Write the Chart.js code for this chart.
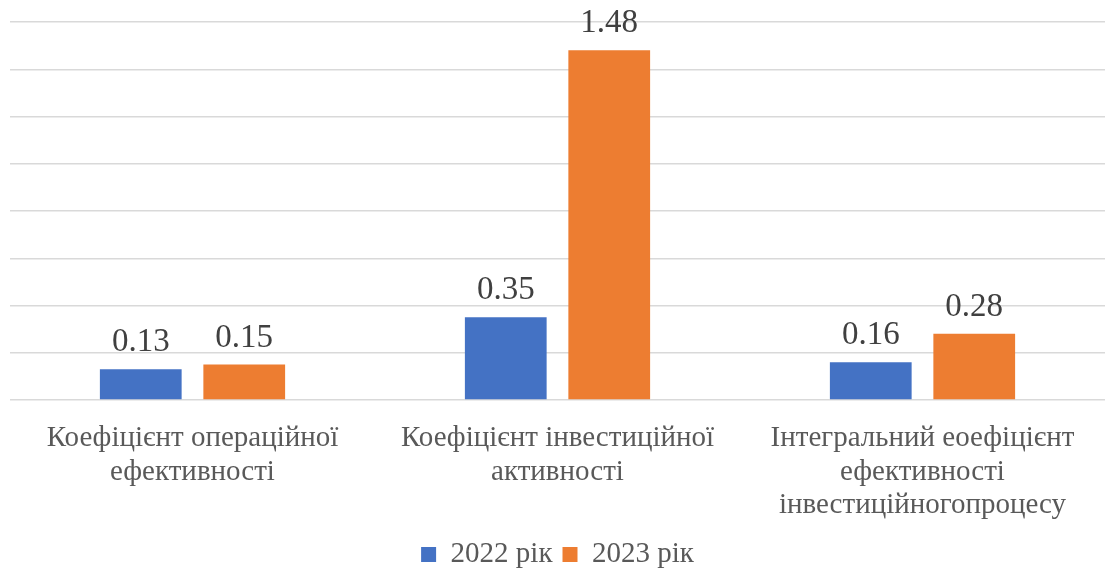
<!DOCTYPE html>
<html>
<head>
<meta charset="utf-8">
<script src="https://cdn.jsdelivr.net/npm/chart.js@4/dist/chart.umd.min.js"></script>
<style>
  html, body { margin: 0; padding: 0; background: #fff; }
  #wrap { width: 1105px; height: 579px; position: relative; }
</style>
</head>
<body>
<div id="wrap"><canvas id="chart"></canvas></div>
<script>
const categories = [
    ['Коефіцієнт операційної', 'ефективності'],
    ['Коефіцієнт інвестиційної', 'активності'],
    ['Інтегральний еоефіцієнт', 'ефективності', 'інвестиційногопроцесу']
];
const seriesNames = ['2022 рік', '2023 рік'];
const values2022 = [0.13, 0.35, 0.16];
const values2023 = [0.15, 1.48, 0.28];
const yMax = 1.6;
const yStep = 0.2;

const serif = "'Liberation Serif', 'Times New Roman', serif";

// draws the value above each bar
const barValues = {
    id: 'barValues',
    afterDatasetsDraw(chart) {
        const ctx = chart.ctx;
        ctx.save();
        ctx.font = '33px ' + serif;
        ctx.fillStyle = '#404040';
        ctx.textAlign = 'center';
        ctx.textBaseline = 'alphabetic';
        chart.data.datasets.forEach((ds, i) => {
            chart.getDatasetMeta(i).data.forEach((bar, j) => {
                ctx.fillText(ds.data[j].toFixed(2), bar.x, bar.y - 18);
            });
        });
        ctx.restore();
    }
};

new Chart(document.getElementById('chart'), {
    type: 'bar',
    data: {
        labels: categories,
        datasets: [{
            label: seriesNames[0],
            data: values2022,
            backgroundColor: '#4472C4'
        }, {
            label: seriesNames[1],
            data: values2023,
            backgroundColor: '#ED7D31'
        }]
    },
    options: {
        responsive: true,
        maintainAspectRatio: false,
        animation: false,
        layout: { padding: { top: 22, left: 10, right: 0, bottom: 0 } },
        datasets: {
            bar: { categoryPercentage: 0.567, barPercentage: 0.79 }
        },
        scales: {
            x: {
                grid: { display: false },
                border: { display: false },
                ticks: {
                    color: '#595959',
                    font: { family: serif, size: 29, lineHeight: 1.15 },
                    padding: 14,
                    maxRotation: 0,
                    autoSkip: false
                },
                afterFit(scale) { scale.height = 130; }
            },
            y: {
                min: 0,
                max: yMax,
                ticks: { display: false, stepSize: yStep },
                grid: { color: '#d9d9d9', lineWidth: 1.5, drawTicks: false },
                border: { display: false }
            }
        },
        plugins: {
            legend: {
                position: 'bottom',
                labels: {
                    color: '#595959',
                    font: { family: serif, size: 29 },
                    boxWidth: 15,
                    boxHeight: 15,
                    padding: 10
                }
            },
            tooltip: { enabled: false }
        }
    },
    plugins: [barValues]
});
</script>
</body>
</html>
